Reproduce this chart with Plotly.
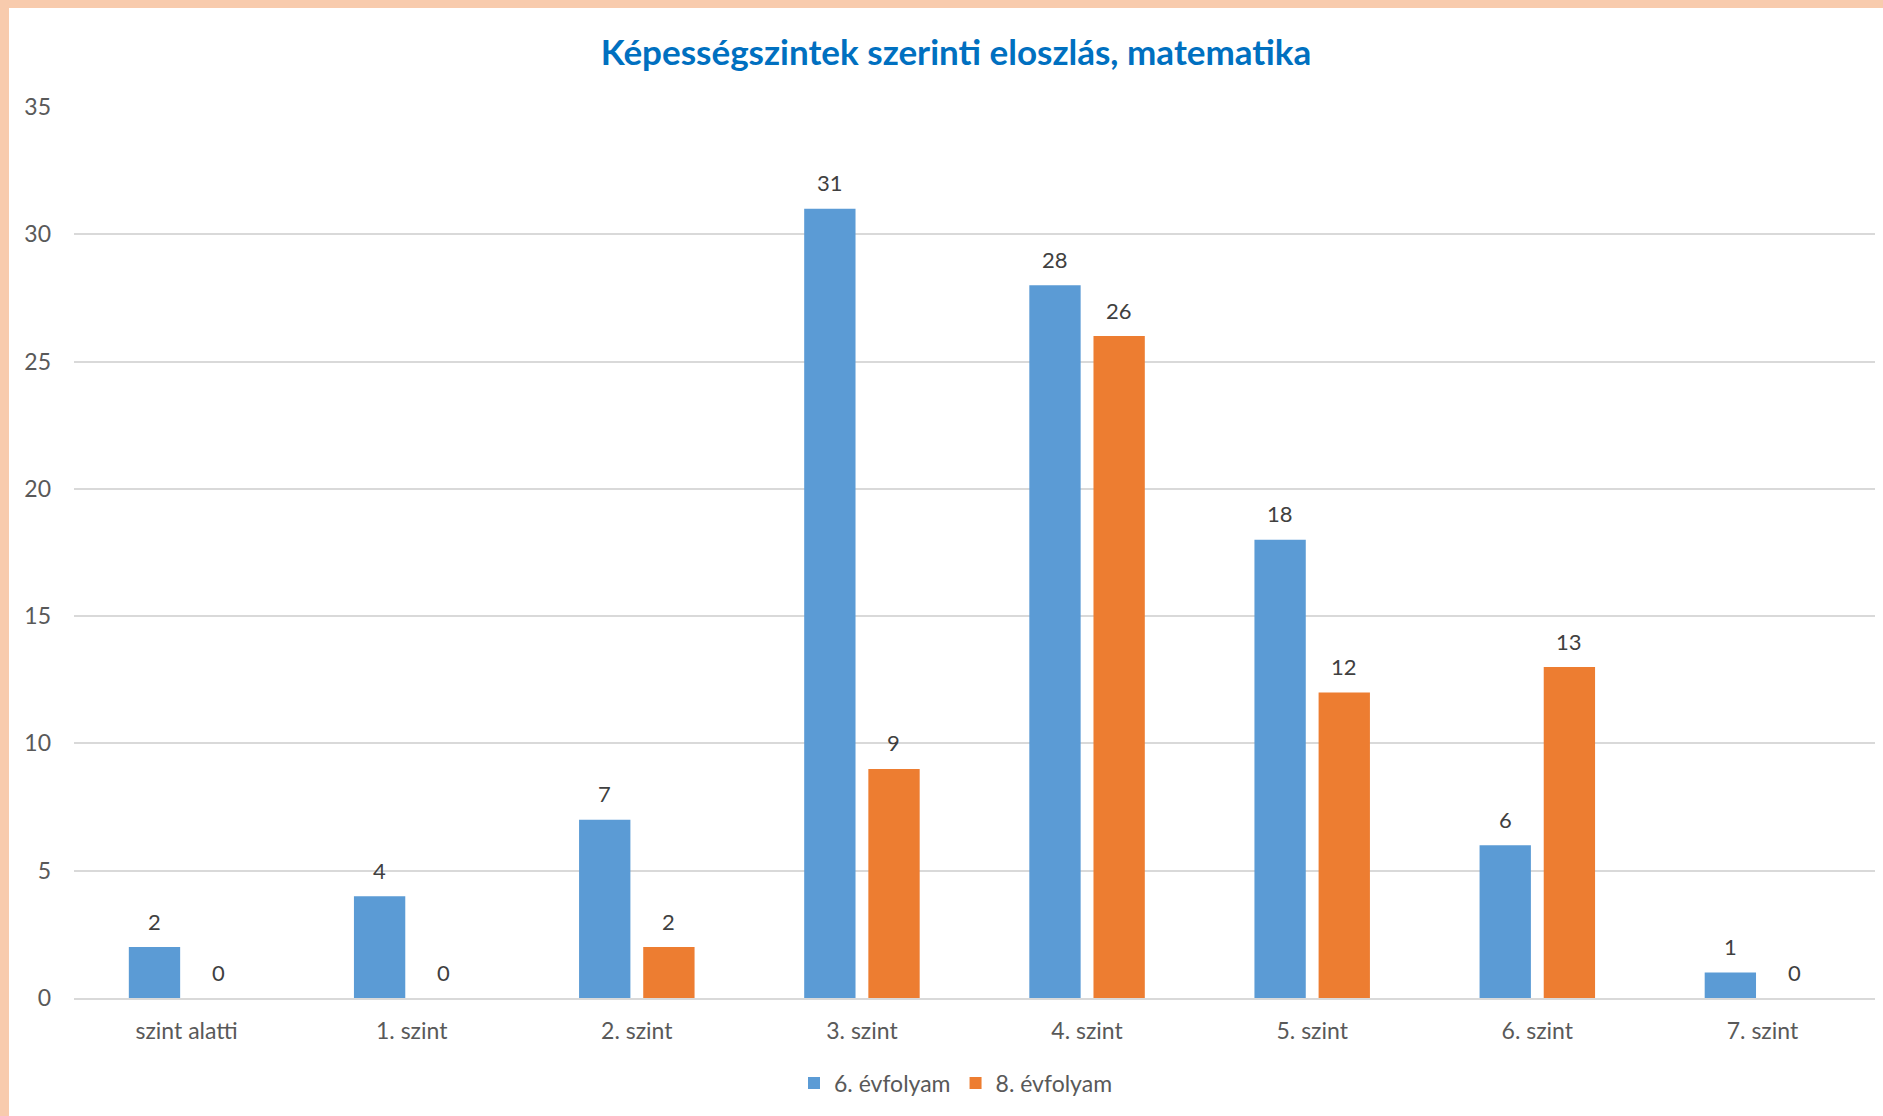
import plotly.graph_objects as go

categories = ["szint alatti", "1. szint", "2. szint", "3. szint", "4. szint", "5. szint", "6. szint", "7. szint"]
grade6 = [2, 4, 7, 31, 28, 18, 6, 1]
grade8 = [0, 0, 2, 9, 26, 12, 13, 0]
series_names = ["6. évfolyam", "8. évfolyam"]
title_text = "Képességszintek szerinti eloszlás, matematika"
y_ticks = [0, 5, 10, 15, 20, 25, 30, 35]

BLUE = "#5B9BD5"
ORANGE = "#ED7D31"
TXT = "#595959"
FONT = "Lato"

W, H = 1883, 1116
L, R, T, B = 74, 8, 107, 118
pw, ph = W - L - R, H - T - B

fig = go.Figure()
for name, vals, col in [(series_names[0], grade6, BLUE), (series_names[1], grade8, ORANGE)]:
    fig.add_trace(go.Bar(x=categories, y=vals, name=name, marker_color=col,
                         marker_line_width=0))

# data labels
for vals, shift in [(grade6, -32), (grade8, 32)]:
    for c, v in zip(categories, vals):
        fig.add_annotation(x=c, y=v, text=str(v), showarrow=False,
                           xshift=shift, yshift=26, yanchor="middle",
                           font=dict(family=FONT, size=22, color="#404040"))

top_y1 = (H - B) / ph
top_y0 = (H - B - 8) / ph
shapes = [
    dict(type="rect", xref="paper", yref="paper", x0=-L / pw, x1=(W - L) / pw,
         y0=top_y0, y1=top_y1, line_width=0, fillcolor="#F8CBAD", layer="above"),
    dict(type="rect", xref="paper", yref="paper", x0=-L / pw, x1=(9 - L) / pw,
         y0=-B / ph, y1=top_y1, line_width=0, fillcolor="#F8CBAD", layer="above"),
]

fig.update_layout(
    width=W, height=H,
    margin=dict(l=L, r=R, t=T, b=B, autoexpand=False),
    paper_bgcolor="white", plot_bgcolor="white",
    barmode="group", bargap=0.43, bargroupgap=0.2,
    title=dict(text="<b>" + title_text + "</b>", x=956 / W, xanchor="center",
               y=1 - 53 / H, yanchor="middle",
               font=dict(family=FONT, size=35, color="#0070C0")),
    font=dict(family=FONT, size=23, color=TXT),
    legend=dict(orientation="h", x=(956 - L) / pw, xanchor="center",
                y=-(1083 - (H - B)) / ph, yanchor="middle",
                font=dict(family=FONT, size=23, color=TXT),
                itemwidth=30, tracegroupgap=0, itemclick=False),
    xaxis=dict(showgrid=False, showline=True, linecolor="#D9D9D9", linewidth=1.5,
               ticks="", tickfont=dict(family=FONT, size=23, color=TXT),
               ticklabelstandoff=12),
    yaxis=dict(range=[0, 35], tickvals=y_ticks, showgrid=True, gridcolor="#D9D9D9",
               gridwidth=1.5, zeroline=False, showline=False, ticks="",
               tickfont=dict(family=FONT, size=23, color=TXT), ticklabelstandoff=22),
    shapes=shapes,
    showlegend=True,
)

fig.write_html("out.html", config={"displayModeBar": False},
               post_script="document.body.style.margin='0';document.body.style.overflow='hidden';")
